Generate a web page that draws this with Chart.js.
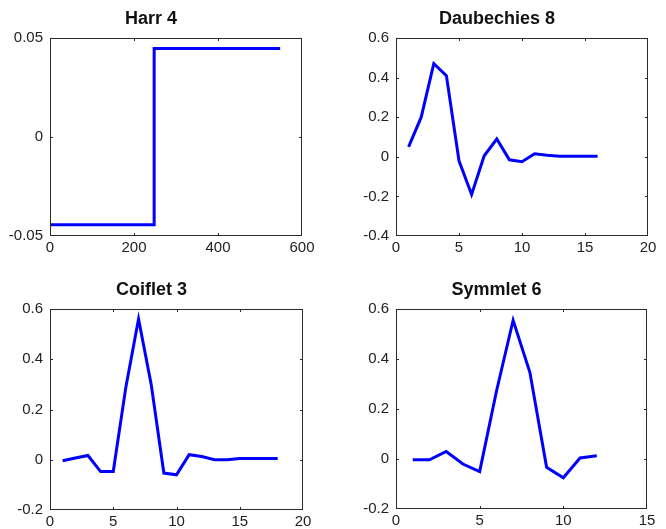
<!DOCTYPE html>
<html>
<head>
<meta charset="utf-8">
<script src="https://cdn.jsdelivr.net/npm/chart.js@4.4.0/dist/chart.umd.min.js"></script>
<style>
  html, body { margin: 0; padding: 0; background: #fff; }
  #wrap { position: relative; width: 666px; height: 529px; overflow: hidden; }
  canvas { position: absolute; }
</style>
</head>
<body>
<div id="wrap">
  <canvas id="harr"></canvas>
  <canvas id="daub"></canvas>
  <canvas id="coif"></canvas>
  <canvas id="sym"></canvas>
</div>
<script>
// values

// Harr 4 is a step: start, jump, end
const harrX = [0, 248, 548];
const harrY = [-0.0443, 0.0447, 0.0447];

// the other three are sampled at x = 1, 2, 3, ...
const daubY = [0.05, 0.2, 0.47, 0.41, -0.02, -0.19, 0.005, 0.09, -0.015, -0.025,
               0.015, 0.008, 0.003, 0.003, 0.003, 0.003];
const coifY = [-0.004, 0.007, 0.017, -0.047, -0.047, 0.29, 0.56, 0.3, -0.053, -0.06,
               0.02, 0.013, 0, 0, 0.005, 0.005, 0.005, 0.005];
const symY  = [-0.003, -0.003, 0.03, -0.02, -0.05, 0.27, 0.555, 0.347, -0.033, -0.075,
               0.004, 0.013];

// tick marks
const harrXTicks = [0, 200, 400, 600];
const harrYTicks = [-0.05, 0, 0.05];
const daubXTicks = [0, 5, 10, 15, 20];
const daubYTicks = [-0.4, -0.2, 0, 0.2, 0.4, 0.6];
const coifXTicks = [0, 5, 10, 15, 20];
const coifYTicks = [-0.2, 0, 0.2, 0.4, 0.6];
const symXTicks  = [0, 5, 10, 15];
const symYTicks  = [-0.2, 0, 0.2, 0.4, 0.6];

Chart.defaults.font.family = '"Liberation Sans", Arial, sans-serif';

const LM = 50, TH = 36, BM = 30;   // room for y labels, title, x labels

// matlab style box with inward ticks on all four sides
const boxPlugin = {
  id: 'matlabBox',
  afterDatasetsDraw(chart) {
    const { ctx, chartArea: a, scales: { x, y } } = chart;
    ctx.save();
    ctx.strokeStyle = '#2a2a2a';
    ctx.lineWidth = 1;
    ctx.strokeRect(a.left + 0.5, a.top + 0.5, a.width - 1, a.height - 1);
    ctx.beginPath();
    x.ticks.forEach(t => {
      const px = Math.round(x.getPixelForValue(t.value)) + 0.5;
      if (px < a.left + 2 || px > a.right - 2) return;
      ctx.moveTo(px, a.bottom); ctx.lineTo(px, a.bottom - 3);
      ctx.moveTo(px, a.top);    ctx.lineTo(px, a.top + 3);
    });
    y.ticks.forEach(t => {
      const py = Math.round(y.getPixelForValue(t.value)) + 0.5;
      if (py < a.top + 2 || py > a.bottom - 2) return;
      ctx.moveTo(a.left, py);  ctx.lineTo(a.left + 3, py);
      ctx.moveTo(a.right, py); ctx.lineTo(a.right - 3, py);
    });
    ctx.stroke();
    ctx.restore();
  }
};

function makePlot(id, box, title, points, xMin, xMax, xTicks, yMin, yMax, yTicks, stepped) {
  const cv = document.getElementById(id);
  cv.width = box.w + 2 * LM;
  cv.height = TH + box.h + BM;
  cv.style.left = (box.left - LM) + 'px';
  cv.style.top = (box.top - TH) + 'px';

  return new Chart(cv, {
    type: 'line',
    data: {
      datasets: [{
        data: points,
        borderColor: '#0000ff',
        borderWidth: 3,
        pointRadius: 0,
        fill: false,
        tension: 0,
        stepped: stepped
      }]
    },
    options: {
      responsive: false,
      animation: false,
      devicePixelRatio: 1,
      layout: { padding: { left: 0, right: LM, top: 0, bottom: 0 } },
      plugins: {
        legend: { display: false },
        tooltip: { enabled: false },
        title: {
          display: true,
          text: title,
          color: '#111',
          font: { size: 18, weight: 'bold', lineHeight: 1.2 },
          padding: { top: 6.7, bottom: 7.7 }
        }
      },
      scales: {
        x: {
          type: 'linear',
          min: xMin, max: xMax,
          grid: { display: false, drawTicks: false, tickLength: 0 },
          border: { display: false },
          afterBuildTicks: s => { s.ticks = xTicks.map(v => ({ value: v })); },
          afterFit: s => { s.height = BM; },
          ticks: { color: '#222', font: { size: 15 }, padding: 3, maxRotation: 0 }
        },
        y: {
          type: 'linear',
          min: yMin, max: yMax,
          grid: { display: false, drawTicks: false, tickLength: 0 },
          border: { display: false },
          afterBuildTicks: s => { s.ticks = yTicks.map(v => ({ value: v })); },
          afterFit: s => { s.width = LM; },
          ticks: { color: '#222', font: { size: 15 }, padding: 7 }
        }
      }
    },
    plugins: [boxPlugin]
  });
}

const indexed = ys => ys.map((v, i) => ({ x: i + 1, y: v }));

makePlot('harr', { left: 50, top: 38, w: 252, h: 198 }, 'Harr 4',
  harrX.map((v, i) => ({ x: v, y: harrY[i] })), 0, 600, harrXTicks, -0.05, 0.05, harrYTicks, true);
makePlot('daub', { left: 396, top: 38, w: 252, h: 198 }, 'Daubechies 8',
  indexed(daubY), 0, 20, daubXTicks, -0.4, 0.6, daubYTicks, false);
makePlot('coif', { left: 50, top: 309, w: 253, h: 201 }, 'Coiflet 3',
  indexed(coifY), 0, 20, coifXTicks, -0.2, 0.6, coifYTicks, false);
makePlot('sym', { left: 396, top: 309, w: 251, h: 200 }, 'Symmlet 6',
  indexed(symY), 0, 15, symXTicks, -0.2, 0.6, symYTicks, false);
</script>
</body>
</html>
